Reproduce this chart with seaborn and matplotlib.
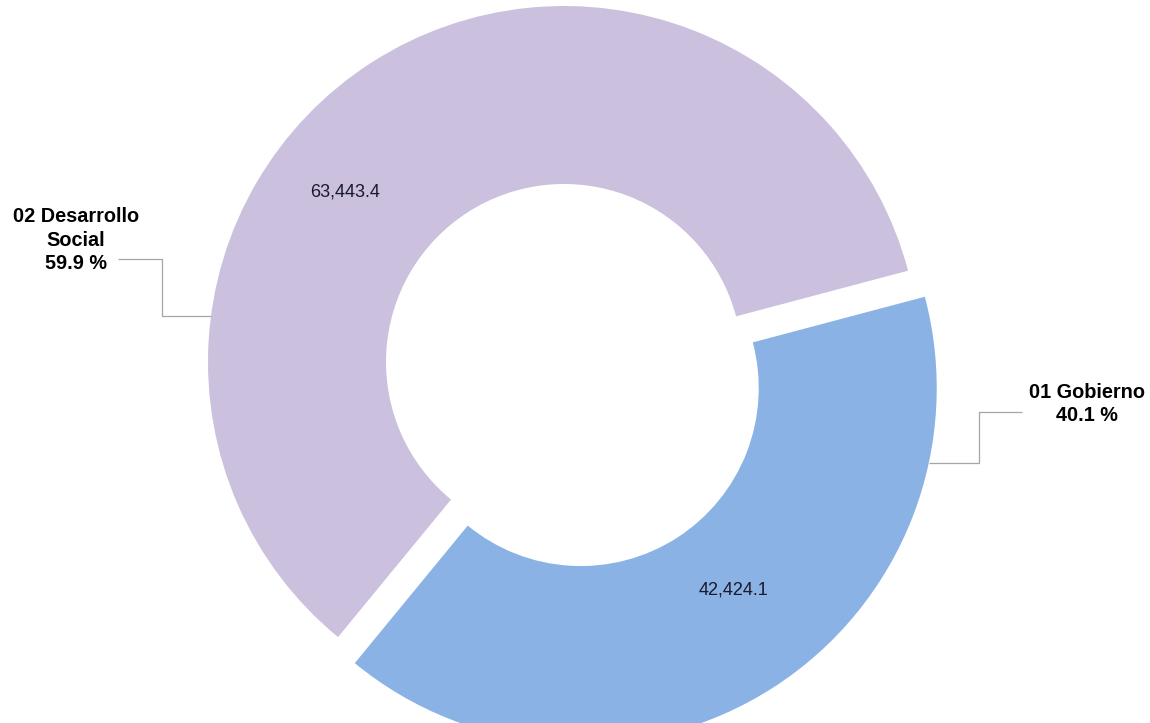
import numpy as np
import matplotlib
matplotlib.use("Agg")
import matplotlib.pyplot as plt
import seaborn as sns

sns.set_style("white")
plt.rcParams["font.family"] = ["Liberation Sans", "DejaVu Sans"]

# data
categories = ["01 Gobierno", "02 Desarrollo\nSocial"]
values = [42424.1, 63443.4]
value_labels = ["42,424.1", "63,443.4"]
percent_labels = ["40.1 %", "59.9 %"]
colors = ["#8AB2E4", "#CBC0DE"]

# layout in pixels (figure 1150x723)
W, H = 1150, 723
R_PX = 356
CX, CY = 564, 362


def px(x, y):
    """pixel (from top-left) -> data coords"""
    return (x - CX) / R_PX, (CY - y) / R_PX


fig = plt.figure(figsize=(W / 100, H / 100), dpi=100)
ax = fig.add_axes([0, 0, 1, 1])

wedges, _ = ax.pie(values, colors=colors, startangle=230.6, counterclock=True,
                   explode=[0.087, 0],
                   wedgeprops=dict(width=0.5, linewidth=0))
ax.set_xlim(-CX / R_PX, (W - CX) / R_PX)
ax.set_ylim(-(H - CY) / R_PX, CY / R_PX)
ax.set_aspect("equal")
ax.axis("off")

# value labels inside the ring
inner_pos = [(0.53, 0.71), (0.59, 0.78)]
for w, lab, (frac, rad) in zip(wedges, value_labels, inner_pos):
    a = np.deg2rad(w.theta1 + frac * (w.theta2 - w.theta1))
    cx, cy = w.center
    ax.text(cx + rad * np.cos(a), cy + rad * np.sin(a), lab,
            ha="center", va="center", fontsize=13, color="#1a1a2e")

# outer labels with elbow leader lines
outer = [
    dict(text_px=(1087, 404), anchor_deg=-12.2, elbow_x=979, line_end_x=1022, line_y=412),
    dict(text_px=(76, 240), anchor_deg=172.5, elbow_x=162, line_end_x=118, line_y=259),
]
for w, cat, pct, o in zip(wedges, categories, percent_labels, outer):
    tx, ty = px(*o["text_px"])
    ax.text(tx, ty, f"{cat}\n{pct}", ha="center", va="center", fontsize=14.3,
            fontweight="bold", linespacing=1.3, color="black")
    a = np.deg2rad(o["anchor_deg"])
    cx, cy = w.center
    ax_x, ax_y = cx + np.cos(a), cy + np.sin(a)
    ex, _ = px(o["elbow_x"], 0)
    lx, ly = px(o["line_end_x"], o["line_y"])
    ax.plot([ax_x, ex, ex, lx], [ax_y, ax_y, ly, ly], color="#A6A6A6", lw=0.9,
            solid_capstyle="butt")

fig.savefig("out.png", dpi=100)
plt.close(fig)
